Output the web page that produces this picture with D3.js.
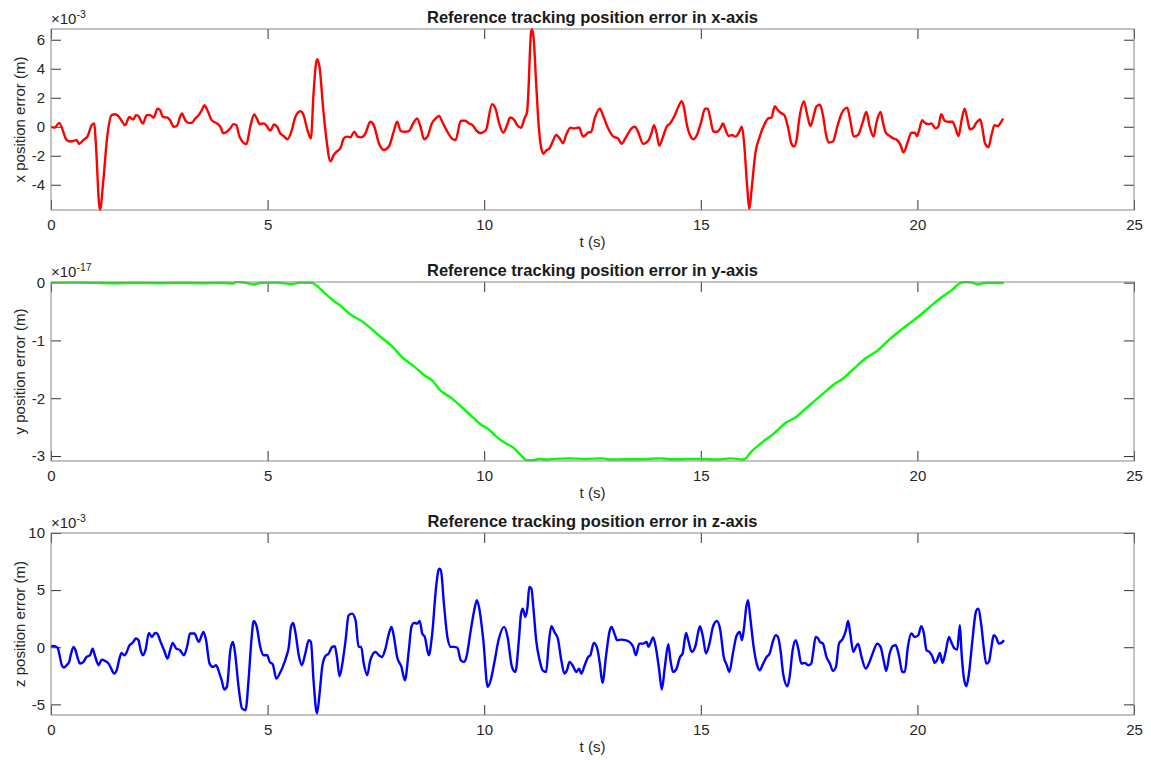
<!DOCTYPE html>
<html>
<head>
<meta charset="utf-8">
<script src="https://cdn.jsdelivr.net/npm/d3@7"></script>
<style>
  body { margin: 0; background: #fff; }
  svg { display: block; font-family: "Liberation Sans", Arial, Helvetica, sans-serif; }
</style>
</head>
<body>
<svg width="1151" height="760"></svg>
<script>
// x-axis error, values in 1e-3 m
const tX = [0,0.08,0.19,0.36,0.44,0.55,0.59,0.65,0.75,0.84,0.94,1.00,1.03,1.13,1.21,1.29,1.40,1.48,1.58,1.63,1.71,1.81,1.86,1.90,1.96,2.02,2.12,2.21,2.29,2.37,2.46,2.52,2.58,2.67,2.75,2.83,2.90,3.02,3.10,3.17,3.25,3.33,3.41,3.48,3.54,3.61,3.71,3.83,3.91,3.98,4.06,4.14,4.21,4.28,4.35,4.51,4.60,4.69,4.75,4.82,4.91,4.98,5.06,5.15,5.22,5.29,5.37,5.46,5.56,5.64,5.76,5.83,5.92,6.00,6.06,6.14,6.20,6.28,6.36,6.45,6.53,6.60,6.68,6.76,6.83,6.91,7.00,7.08,7.16,7.26,7.37,7.45,7.57,7.68,7.80,7.91,7.99,8.07,8.15,8.26,8.38,8.45,8.53,8.61,8.69,8.79,8.88,8.96,9.03,9.15,9.25,9.34,9.46,9.56,9.65,9.73,9.81,9.92,10.04,10.18,10.26,10.35,10.44,10.52,10.60,10.70,10.76,10.85,10.93,10.99,11.01,11.08,11.10,11.14,11.20,11.26,11.31,11.37,11.43,11.51,11.58,11.66,11.74,11.82,11.89,11.99,12.09,12.19,12.28,12.40,12.47,12.55,12.67,12.74,12.86,12.98,13.09,13.17,13.28,13.40,13.48,13.55,13.67,13.79,13.86,13.92,13.98,14.04,14.13,14.21,14.29,14.40,14.48,14.56,14.61,14.68,14.75,14.83,14.91,15.00,15.10,15.16,15.22,15.29,15.37,15.45,15.51,15.56,15.64,15.72,15.80,15.87,15.95,16.00,16.07,16.12,16.18,16.26,16.36,16.48,16.55,16.63,16.71,16.78,16.85,16.93,17.01,17.09,17.15,17.21,17.28,17.38,17.45,17.53,17.61,17.67,17.75,17.82,17.90,17.96,18.05,18.15,18.25,18.38,18.45,18.53,18.63,18.73,18.82,18.90,18.99,19.05,19.15,19.21,19.27,19.36,19.44,19.53,19.61,19.68,19.78,19.86,19.94,19.99,20.04,20.11,20.17,20.25,20.32,20.42,20.48,20.55,20.63,20.71,20.81,20.88,20.95,21.02,21.09,21.15,21.21,21.28,21.36,21.45,21.50,21.56,21.64,21.71,21.78,21.86,21.92,21.98];
const xErr = [0,-0.07,0.27,-0.91,-1.02,-0.95,-0.91,-1.18,-0.91,-0.68,0.11,0.23,-0.91,-5.74,-3.64,-0.91,0.80,0.86,0.64,0.41,0.11,0.68,0.57,0.50,0.80,0.73,0.23,0.80,0.80,0.64,1.25,1.14,0.68,0.64,0.45,0.00,0.05,0.91,0.45,0.27,0.27,0.57,0.80,1.14,1.48,1.14,0.45,0.23,0.00,-0.45,-0.34,-0.11,0.18,0.11,-0.68,-1.20,0.00,0.84,0.57,0.18,0.23,0.05,-0.27,0.16,0.00,-0.45,-0.64,-0.86,-0.23,0.68,1.07,0.80,-0.23,-0.80,2.27,4.66,4.09,1.36,-0.91,-2.39,-1.93,-1.70,-1.48,-0.80,-0.68,-0.73,-0.34,-0.68,-0.73,-0.45,0.34,0.11,-1.14,-1.60,-1.36,-0.34,0.34,-0.27,-0.34,-0.30,0.34,0.57,0.00,-0.86,-0.68,0.23,0.57,0.75,0.34,-0.34,-0.80,-0.91,0.41,0.41,0.23,0.11,-0.23,-0.45,-0.23,1.55,1.25,0.18,-0.41,0.05,0.64,0.45,0.11,-0.07,0.57,1.02,1.82,6.48,6.74,6.14,2.95,0.00,-1.36,-1.86,-1.64,-1.48,-1.02,-0.57,-0.80,-1.14,-0.57,-0.07,-0.11,-0.05,-0.68,-0.41,-0.34,0.57,1.25,0.80,-0.11,-0.68,-0.80,-1.18,-0.68,-0.11,0.00,-0.34,-1.18,-0.95,-0.45,0.11,-0.45,-1.30,-0.68,0.00,0.23,0.80,1.36,1.77,1.36,0.11,-0.57,-0.86,-0.57,0.23,1.25,1.25,0.57,-0.34,-0.34,-0.11,0.23,-0.11,-0.64,-0.57,-0.68,-0.45,0.00,-1.14,-4.09,-5.68,-4.09,-1.82,-0.68,0.23,0.57,0.64,1.41,1.14,0.95,0.80,0.00,-1.14,-1.36,-0.91,0.68,1.75,0.91,0.05,0.80,1.41,1.52,0.80,-0.68,-1.09,-1.02,0.00,0.91,1.32,0.45,-0.68,-0.57,0.23,1.02,0.00,-0.68,0.23,1.02,0.23,-0.41,-0.64,-0.80,-0.91,-1.25,-1.77,-1.02,-0.41,-0.41,-0.64,-0.23,0.45,0.27,0.18,0.23,-0.11,0.00,0.86,0.41,0.34,0.34,-0.11,-0.64,0.45,1.25,0.57,-0.18,-0.11,0.27,0.50,-0.11,-1.14,-1.41,-0.57,0.11,0.05,0.27,0.57];

// y-axis error, values in 1e-17 m
const tY = [0,0.5,1.0,1.5,2.0,2.5,3.0,3.5,4.0,4.2,4.28,4.5,4.67,4.85,5.2,5.56,5.75,6.0,6.07,6.16,6.33,6.50,6.67,6.93,7.18,7.35,7.61,7.87,8.12,8.38,8.63,8.81,8.98,9.23,9.49,9.74,9.91,10.09,10.26,10.43,10.68,10.85,10.98,11.11,11.28,11.45,11.62,11.96,12.3,12.73,12.90,13.3,13.67,14.06,14.3,14.53,14.8,15.0,15.39,15.69,15.99,16.16,16.37,16.67,16.97,17.19,17.36,17.62,17.87,18.04,18.30,18.56,18.82,19.07,19.33,19.67,20.02,20.27,20.53,20.79,20.96,21.09,21.26,21.39,21.56,21.73,21.99];
const yErr = [-0.005,0.0,-0.005,-0.01,-0.005,-0.01,-0.005,-0.01,-0.005,-0.015,0.01,-0.005,-0.03,-0.005,0.0,-0.025,0.0,-0.005,-0.02,-0.07,-0.19,-0.30,-0.39,-0.56,-0.67,-0.77,-0.94,-1.10,-1.30,-1.45,-1.61,-1.70,-1.86,-1.99,-2.16,-2.33,-2.45,-2.53,-2.65,-2.75,-2.86,-2.99,-3.07,-3.07,-3.05,-3.06,-3.05,-3.04,-3.05,-3.04,-3.06,-3.055,-3.055,-3.04,-3.055,-3.055,-3.05,-3.05,-3.06,-3.04,-3.06,-2.93,-2.79,-2.62,-2.42,-2.33,-2.22,-2.05,-1.89,-1.78,-1.65,-1.47,-1.30,-1.18,-1.00,-0.79,-0.59,-0.43,-0.27,-0.13,-0.02,0.01,0.0,-0.03,-0.005,-0.005,-0.005];

// z-axis error, values in 1e-3 m
const tZ = [0,0.05,0.15,0.19,0.25,0.30,0.36,0.42,0.46,0.52,0.56,0.62,0.67,0.75,0.82,0.90,0.96,1.00,1.06,1.10,1.17,1.25,1.33,1.39,1.46,1.52,1.58,1.63,1.69,1.75,1.80,1.86,1.90,1.96,2.02,2.07,2.12,2.18,2.26,2.33,2.40,2.45,2.53,2.61,2.69,2.75,2.81,2.89,2.98,3.07,3.14,3.21,3.31,3.41,3.52,3.58,3.66,3.74,3.81,3.89,3.94,4.00,4.06,4.14,4.20,4.25,4.33,4.41,4.49,4.56,4.62,4.68,4.75,4.83,4.91,4.99,5.05,5.12,5.20,5.28,5.35,5.43,5.49,5.54,5.59,5.64,5.72,5.79,5.87,5.95,6.00,6.06,6.14,6.20,6.26,6.33,6.41,6.49,6.55,6.60,6.66,6.72,6.80,6.87,6.95,7.03,7.10,7.16,7.22,7.30,7.37,7.49,7.57,7.64,7.72,7.80,7.86,7.91,7.99,8.09,8.17,8.26,8.32,8.38,8.45,8.51,8.57,8.63,8.72,8.80,8.89,8.96,9.00,9.07,9.15,9.23,9.30,9.38,9.46,9.54,9.59,9.69,9.77,9.83,9.88,9.98,10.08,10.15,10.23,10.33,10.46,10.54,10.64,10.72,10.80,10.85,10.89,10.95,11.00,11.04,11.09,11.14,11.20,11.28,11.35,11.43,11.49,11.55,11.62,11.70,11.78,11.85,11.91,11.97,12.05,12.13,12.19,12.24,12.32,12.40,12.45,12.53,12.60,12.67,12.73,12.81,12.89,12.94,13.02,13.07,13.17,13.28,13.38,13.44,13.50,13.58,13.67,13.75,13.79,13.84,13.90,13.96,14.04,14.10,14.17,14.25,14.30,14.36,14.44,14.52,14.58,14.66,14.71,14.79,14.87,14.95,14.98,15.05,15.12,15.20,15.28,15.37,15.45,15.53,15.60,15.66,15.74,15.83,15.90,15.95,16.00,16.05,16.09,16.14,16.22,16.30,16.36,16.44,16.52,16.59,16.65,16.73,16.78,16.84,16.90,17.00,17.05,17.12,17.19,17.25,17.32,17.40,17.48,17.55,17.59,17.65,17.71,17.75,17.82,17.90,17.98,18.05,18.12,18.19,18.28,18.35,18.40,18.45,18.52,18.58,18.63,18.71,18.81,18.88,18.98,19.07,19.15,19.22,19.28,19.36,19.44,19.50,19.58,19.65,19.71,19.78,19.86,19.94,20.02,20.09,20.15,20.21,20.28,20.35,20.40,20.45,20.52,20.58,20.65,20.73,20.78,20.86,20.92,20.98,21.02,21.07,21.13,21.19,21.27,21.35,21.40,21.48,21.53,21.59,21.65,21.71,21.76,21.82,21.88,21.94,22.00];
const zErr = [0.03,0.12,-0.03,-0.55,-1.57,-1.78,-1.57,-1.28,-0.61,0.03,-0.20,-0.99,-1.43,-1.28,-0.85,-0.70,-0.12,-0.55,-1.28,-1.57,-1.08,-1.20,-1.43,-1.87,-2.30,-1.95,-0.99,-0.50,-0.70,-0.41,0.09,0.32,0.47,0.76,0.61,-0.26,-0.70,-0.26,1.25,0.90,1.25,1.20,0.47,-0.26,-0.99,-0.26,0.38,-0.12,-0.26,-0.70,0.03,1.20,1.20,0.47,1.34,0.61,-1.43,-1.72,-1.57,-2.30,-2.89,-3.70,-3.47,-0.26,0.47,-0.55,-3.47,-5.36,-5.51,-2.89,0.32,2.30,1.78,0.03,-0.70,-0.70,-1.28,-1.49,-2.74,-2.30,-1.72,-0.85,0.03,1.78,2.13,1.34,-0.70,-1.57,-0.55,0.61,0.47,-2.89,-5.80,-4.05,-1.72,-0.79,-0.55,0.03,0.09,-0.85,-2.54,-1.57,0.61,2.80,2.94,2.36,0.03,0.03,-1.43,-2.45,-1.14,-0.41,-0.70,-0.85,-0.12,1.20,1.78,1.05,-0.85,-1.72,-2.89,-0.26,1.78,2.13,2.07,2.30,1.20,0.90,-0.70,1.20,5.28,6.88,6.74,3.82,0.90,0.03,0.03,-0.03,-1.14,-1.28,-0.85,1.49,3.24,4.11,3.53,0.61,-3.47,-2.89,-1.43,0.61,1.78,0.90,-1.72,-2.16,0.61,2.94,3.38,2.65,3.53,5.28,5.13,3.24,0.61,-1.14,-2.02,-2.16,0.32,1.84,1.34,0.76,-1.14,-2.30,-2.02,-1.28,-1.66,-2.16,-1.87,-2.30,-1.57,-0.85,-0.70,0.38,0.03,-1.43,-3.12,-0.85,1.34,1.78,1.05,0.61,0.67,0.61,0.38,0.03,-0.70,0.32,0.32,0.47,0.03,0.38,0.85,0.03,-2.02,-3.70,-1.72,0.26,-1.14,-2.16,-1.87,-0.85,-0.55,1.25,0.61,-0.41,0.03,1.49,1.84,0.90,-0.55,0.32,1.78,2.30,1.49,-0.85,-1.57,-2.16,-0.55,1.05,1.34,0.61,1.78,3.53,4.11,2.65,0.03,-1.57,-2.01,-1.43,-0.85,-0.55,0.32,1.05,0.90,-0.26,-2.30,-3.41,-2.59,-0.26,0.61,-0.12,-1.43,-1.37,-1.57,-1.43,-0.55,0.90,0.76,0.47,0.32,-0.85,-1.43,-2.07,-1.72,0.32,0.76,1.49,2.30,1.20,-0.41,0.03,0.32,-0.85,-1.87,-1.43,-0.41,0.32,0.03,-1.14,-2.07,-0.55,0.12,0.17,-0.85,-2.16,-2.16,0.03,1.20,0.90,1.05,1.84,1.20,-0.26,-0.41,-0.85,-1.37,-1.14,-0.50,-1.37,-0.41,0.90,0.47,-0.12,-0.20,1.92,-0.55,-2.59,-3.41,-2.30,0.61,3.09,3.38,1.78,0.03,-1.43,-1.28,0.03,1.05,0.85,0.32,0.38,0.61];

const tTicks = [0, 5, 10, 15, 20, 25];
const xErrTicks = [-4, -2, 0, 2, 4, 6];
const yErrTicks = [-3, -2, -1, 0];
const zErrTicks = [-5, 0, 5, 10];

const svg = d3.select("svg");
const left = 51, right = 1134;
const textColor = "#262626";
const plain = function(d) { return String(d); }; // hyphen minus, no decimals

const panels = [
  { t: tX, v: xErr, ticks: xErrTicks, domain: [-5.74, 6.74], top: 29, bottom: 210,
    color: "#ff0000", exp: "-3", ylabel: "x position error (m)",
    title: "Reference tracking position error in x-axis" },
  { t: tY, v: yErr, ticks: yErrTicks, domain: [-3.086, 0.011], top: 282, bottom: 461,
    color: "#00ff00", exp: "-17", ylabel: "y position error (m)",
    title: "Reference tracking position error in y-axis" },
  { t: tZ, v: zErr, ticks: zErrTicks, domain: [-5.93, 10], top: 533, bottom: 715,
    color: "#0000ff", exp: "-3", ylabel: "z position error (m)",
    title: "Reference tracking position error in z-axis" }
];

function styleAxis(g) {
  g.select(".domain").remove();
  g.selectAll(".tick line").attr("stroke", "#333").attr("stroke-width", 1);
  g.selectAll(".tick text").attr("fill", textColor).style("font-size", "15px")
    .style("font-family", "'Liberation Sans', Arial, sans-serif");
}

panels.forEach(function(p, k) {
  const h = p.bottom - p.top;
  const w = right - left;
  const x = d3.scaleLinear().domain([0, 25]).range([0, w]);
  const y = d3.scaleLinear().domain(p.domain).range([h, 0]);

  const g = svg.append("g").attr("transform", "translate(" + left + "," + p.top + ")");

  g.append("clipPath").attr("id", "clip" + k)
    .append("rect").attr("x", -1).attr("y", -1).attr("width", w + 2).attr("height", h + 2);

  // axes, ticks pointing inside
  g.append("g").attr("transform", "translate(0," + h + ")")
    .call(d3.axisBottom(x).tickValues(tTicks).tickFormat(plain).tickSizeInner(-10).tickSizeOuter(0).tickPadding(9))
    .call(styleAxis);
  g.append("g")
    .call(d3.axisTop(x).tickValues(tTicks).tickSizeInner(-10).tickSizeOuter(0).tickFormat(""))
    .call(styleAxis);
  g.append("g")
    .call(d3.axisLeft(y).tickValues(p.ticks).tickFormat(plain).tickSizeInner(-10).tickSizeOuter(0).tickPadding(6))
    .call(styleAxis);
  g.append("g").attr("transform", "translate(" + w + ",0)")
    .call(d3.axisRight(y).tickValues(p.ticks).tickSizeInner(-10).tickSizeOuter(0).tickFormat(""))
    .call(styleAxis);

  // data line
  const line = d3.line()
    .x(function(i) { return x(p.t[i]); })
    .y(function(i) { return y(p.v[i]); })
    .curve(d3.curveMonotoneX);

  g.append("path")
    .datum(d3.range(p.t.length))
    .attr("clip-path", "url(#clip" + k + ")")
    .attr("fill", "none")
    .attr("stroke", p.color)
    .attr("stroke-width", 2.4)
    .attr("stroke-linejoin", "round")
    .attr("d", line);

  // box
  g.append("rect").attr("width", w).attr("height", h)
    .attr("fill", "none").attr("stroke", "#858585").attr("stroke-width", 1);

  // labels
  g.append("text")
    .attr("x", w / 2).attr("y", -6)
    .attr("text-anchor", "middle")
    .attr("fill", "#1a1a1a")
    .style("font-size", "16.5px").style("font-weight", "bold")
    .text(p.title);

  g.append("text")
    .attr("x", w / 2).attr("y", h + 37)
    .attr("text-anchor", "middle")
    .attr("fill", textColor)
    .style("font-size", "15px")
    .text("t (s)");

  g.append("text")
    .attr("transform", "translate(" + (25 - left) + "," + (h / 2) + ") rotate(-90)")
    .attr("text-anchor", "middle")
    .attr("fill", textColor)
    .style("font-size", "15px")
    .text(p.ylabel);

  const e = g.append("text")
    .attr("x", 0).attr("y", -5)
    .attr("fill", textColor)
    .style("font-size", "15px");
  e.append("tspan").text("\u00d710");
  e.append("tspan").attr("dy", -6).style("font-size", "10.5px").text(p.exp);
});
</script>
</body>
</html>
